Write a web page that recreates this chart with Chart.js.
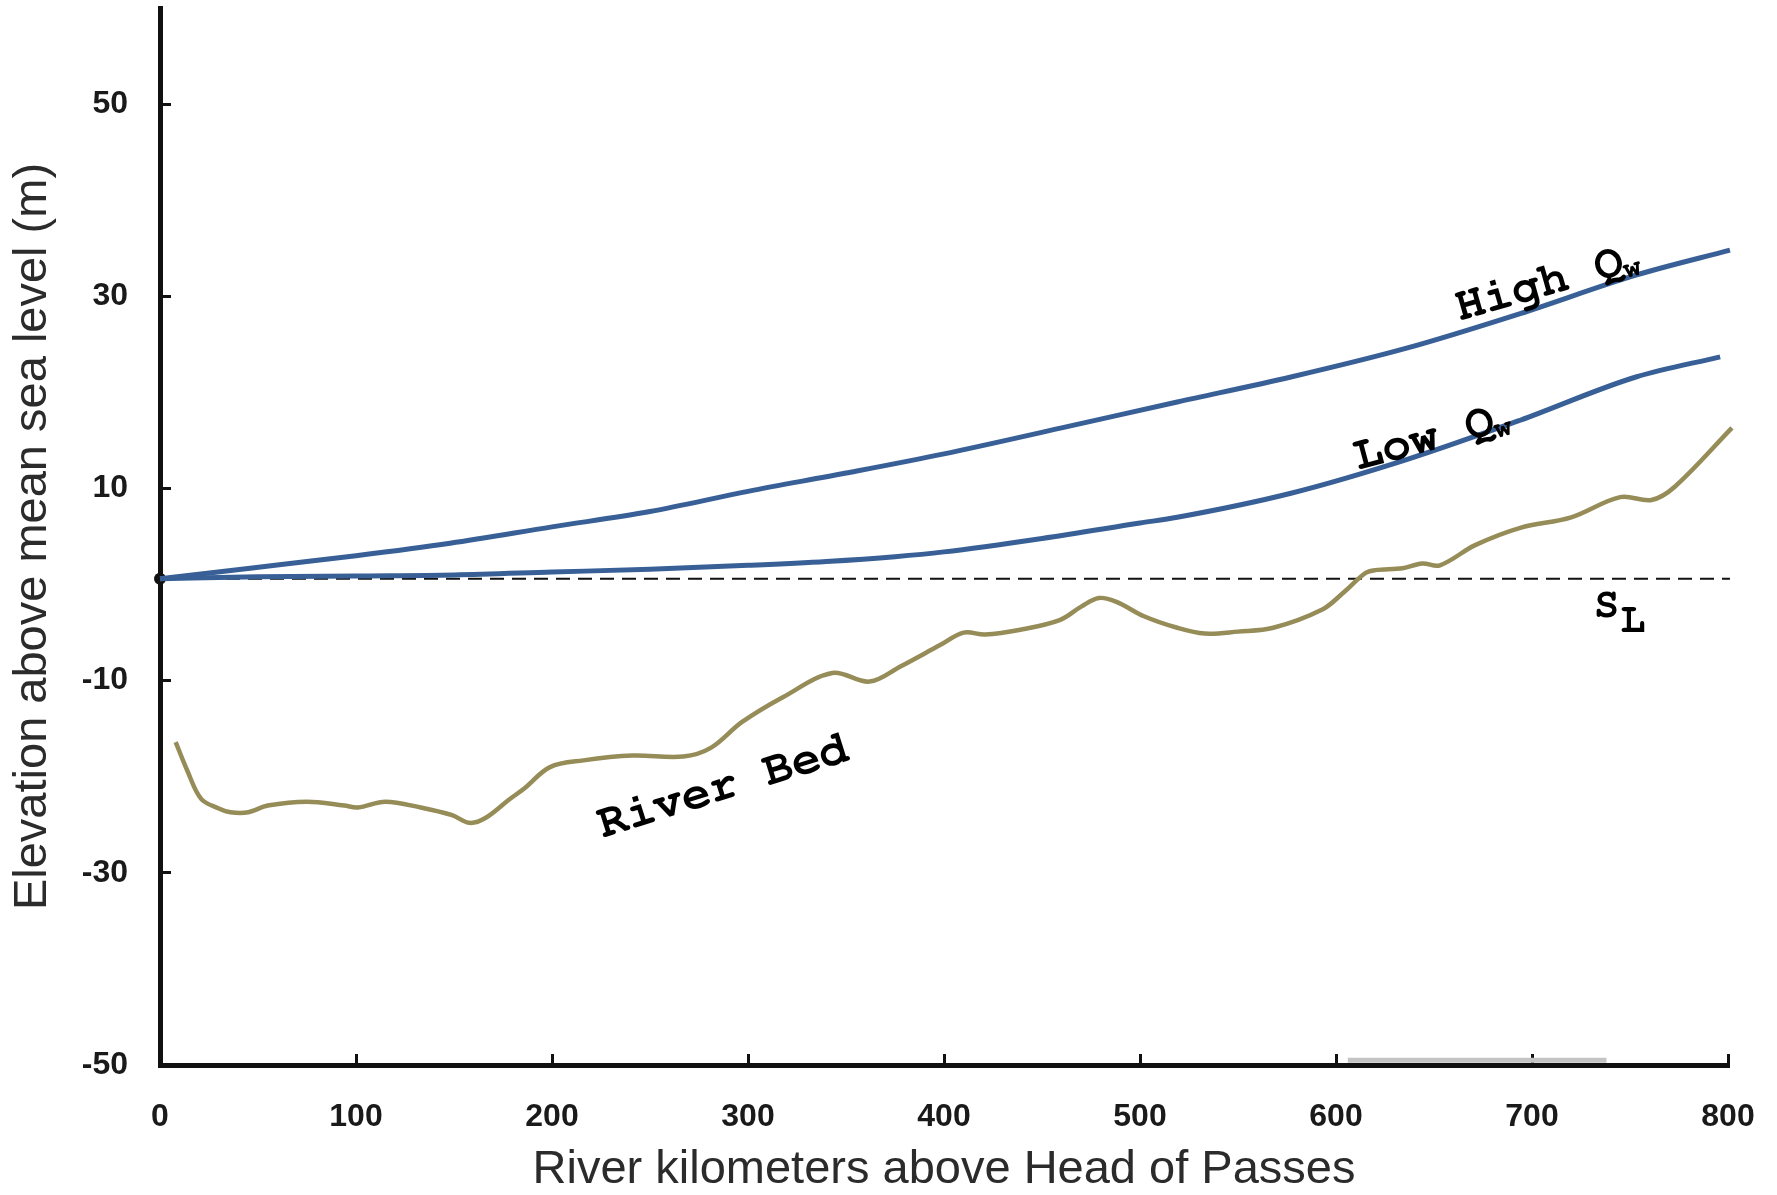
<!DOCTYPE html>
<html><head><meta charset="utf-8">
<script src="https://cdn.jsdelivr.net/npm/chart.js@4.4.1/dist/chart.umd.min.js"></script>
<style>html,body{margin:0;padding:0;background:#fff;} #c{display:block;}</style>
</head><body>
<canvas id="c" width="1777" height="1195"></canvas>
<script>
// ---- data ----
const xTicks = [0, 100, 200, 300, 400, 500, 600, 700, 800];
const yTicks = [-50, -30, -10, 10, 30, 50];

const highX = [0, 46, 100, 148, 200, 250, 300, 350, 400, 460, 519, 577, 636, 694, 753, 801];
const highY = [0.6, 1.7, 3.0, 4.3, 6.0, 7.6, 9.7, 11.6, 13.6, 16.3, 19.0, 21.6, 24.6, 28.2, 32.2, 34.8];

const lowX = [0, 50, 100, 150, 200, 250, 300, 340, 375, 400, 450, 500, 519, 577, 636, 694, 753, 796];
const lowY = [0.6, 0.8, 0.9, 1.0, 1.3, 1.6, 2.0, 2.4, 2.9, 3.4, 4.8, 6.4, 7.0, 9.5, 13.0, 17.1, 21.6, 23.7];

const bedX = [8, 14, 21, 30, 36, 45, 55, 75, 94, 101, 115, 133, 149, 158, 166, 178, 186, 199, 216, 241, 267, 281, 297, 318, 343, 362, 378, 398, 410, 421, 439, 459, 470, 479, 488, 502, 519, 533, 550, 568, 593, 604, 615, 620, 634, 644, 653, 671, 694, 720, 745, 761, 773, 802];
const bedY = [-16.4, -19.4, -22.3, -23.3, -23.7, -23.7, -23.0, -22.6, -23.0, -23.2, -22.6, -23.2, -24.0, -24.8, -24.3, -22.4, -21.2, -19.0, -18.3, -17.8, -17.9, -17.0, -14.3, -11.7, -9.2, -10.1, -8.5, -6.3, -5.0, -5.2, -4.7, -3.7, -2.3, -1.4, -1.8, -3.3, -4.5, -5.1, -4.9, -4.5, -2.6, -0.8, 1.2, 1.5, 1.7, 2.2, 2.0, 4.1, 5.9, 7.0, 9.1, 8.8, 10.2, 16.3];

const seaX = [0, 801];
const seaY = [0.6, 0.6];

const barX = [606, 738];
const barY = [-49.5, -49.5];

const pts = (xs, ys) => xs.map((v, i) => ({x: v, y: ys[i]}));

const SANS = "Arial, 'Liberation Sans', sans-serif";
const MONO = "'Nimbus Mono PS', 'Nimbus Mono L', FreeMono, 'Courier New', 'Liberation Mono', monospace";

const notes = [
  {main: 'High Q', sub: 'w', x: 708, y: 31.7, rot: -16},
  {main: 'Low Q', sub: 'w', x: 649, y: 15.6, rot: -15},
  {main: 'River Bed', sub: '', x: 287, y: -20.8, rot: -17.5}
];

const annot = {
  id: 'annot',
  afterDatasetsDraw(chart) {
    const {ctx, scales: {x, y}} = chart;
    ctx.save();
    ctx.fillStyle = '#000';
    notes.forEach(n => {
      const cx = x.getPixelForValue(n.x), cy = y.getPixelForValue(n.y);
      ctx.save();
      ctx.translate(cx, cy);
      ctx.rotate(n.rot * Math.PI / 180);
      ctx.font = 'bold 48px ' + MONO;
      const w1 = ctx.measureText(n.main).width;
      ctx.font = 'bold 30px ' + MONO;
      const w2 = n.sub ? ctx.measureText(n.sub).width : 0;
      const start = -(w1 + w2) / 2;
      ctx.textAlign = 'left';
      ctx.textBaseline = 'alphabetic';
      ctx.font = 'bold 48px ' + MONO;
      ctx.fillText(n.main, start, 15);
      if (n.sub) {
        ctx.font = 'bold 30px ' + MONO;
        ctx.fillText(n.sub, start + w1 - 2, 20);
      }
      ctx.restore();
    });
    // S_L
    ctx.textAlign = 'center';
    ctx.textBaseline = 'middle';
    ctx.font = 'bold 42px ' + MONO;
    ctx.fillText('S', x.getPixelForValue(738), y.getPixelForValue(-2.1));
    ctx.fillText('L', x.getPixelForValue(751.5), y.getPixelForValue(-3.6));
    ctx.restore();
  }
};

const bg = {
  id: 'bg',
  beforeDraw(chart) {
    const c = chart.ctx;
    c.save(); c.fillStyle = '#fff'; c.fillRect(0, 0, chart.width, chart.height); c.restore();
  }
};

const axisCommon = {
  type: 'linear',
  border: {display: true, width: 5, color: '#111'},
  grid: {display: true, drawOnChartArea: false, drawTicks: true, tickLength: -11, tickWidth: 3, tickColor: '#111'},
};

const zeroPad = s => { s.paddingTop = 0; s.paddingBottom = 0; s.paddingLeft = 0; s.paddingRight = 0; };

new Chart(document.getElementById('c'), {
  type: 'line',
  data: {
    datasets: [
      {label: 'High Qw', data: pts(highX, highY), borderColor: '#386096', borderWidth: 5, pointRadius: 0, cubicInterpolationMode: 'monotone', clip: false},
      {label: 'Low Qw', data: pts(lowX, lowY), borderColor: '#386096', borderWidth: 5, pointRadius: 0, cubicInterpolationMode: 'monotone', clip: false},
      {label: 'River Bed', data: pts(bedX, bedY), borderColor: '#968c58', borderWidth: 4.5, pointRadius: 0, tension: 0.35, clip: false},
      {label: 'Sea level', data: pts(seaX, seaY), borderColor: '#111', borderWidth: 2, borderDash: [14, 8], pointRadius: [6, 0], pointBackgroundColor: '#111', pointBorderWidth: 0, clip: false},
      {label: 'bar', data: pts(barX, barY), borderColor: '#c4c4c4', borderWidth: 5, pointRadius: 0, clip: false}
    ]
  },
  options: {
    responsive: false,
    devicePixelRatio: 1,
    animation: false,
    layout: {padding: {top: 8, right: 49, left: 0, bottom: 0}},
    plugins: {legend: {display: false}, tooltip: {enabled: false}},
    scales: {
      x: Object.assign({}, axisCommon, {
        min: 0, max: 800,
        afterBuildTicks: s => { s.ticks = xTicks.map(v => ({value: v})); },
        afterFit: s => { s.height = 130; zeroPad(s); },
        ticks: {padding: 44, color: '#1a1a1a', maxRotation: 0, autoSkip: false,
                font: {family: SANS, size: 32, weight: 'bold', lineHeight: 1.2}},
        title: {display: true, text: 'River kilometers above Head of Passes', color: '#2b2b2b',
                font: {family: SANS, size: 47, lineHeight: 1}, padding: {top: 0, bottom: 1}}
      }),
      y: Object.assign({}, axisCommon, {
        min: -50, max: 60,
        afterBuildTicks: s => { s.ticks = yTicks.map(v => ({value: v})); },
        afterFit: s => { s.width = 160; zeroPad(s); },
        ticks: {padding: 43, color: '#1a1a1a', autoSkip: false,
                font: {family: SANS, size: 32, weight: 'bold', lineHeight: 1.2}},
        title: {display: true, text: 'Elevation above mean sea level (m)', color: '#2b2b2b',
                font: {family: SANS, size: 47, lineHeight: 1}, padding: {top: 10, bottom: 0}}
      })
    }
  },
  plugins: [bg, annot]
});
</script>
</body></html>
